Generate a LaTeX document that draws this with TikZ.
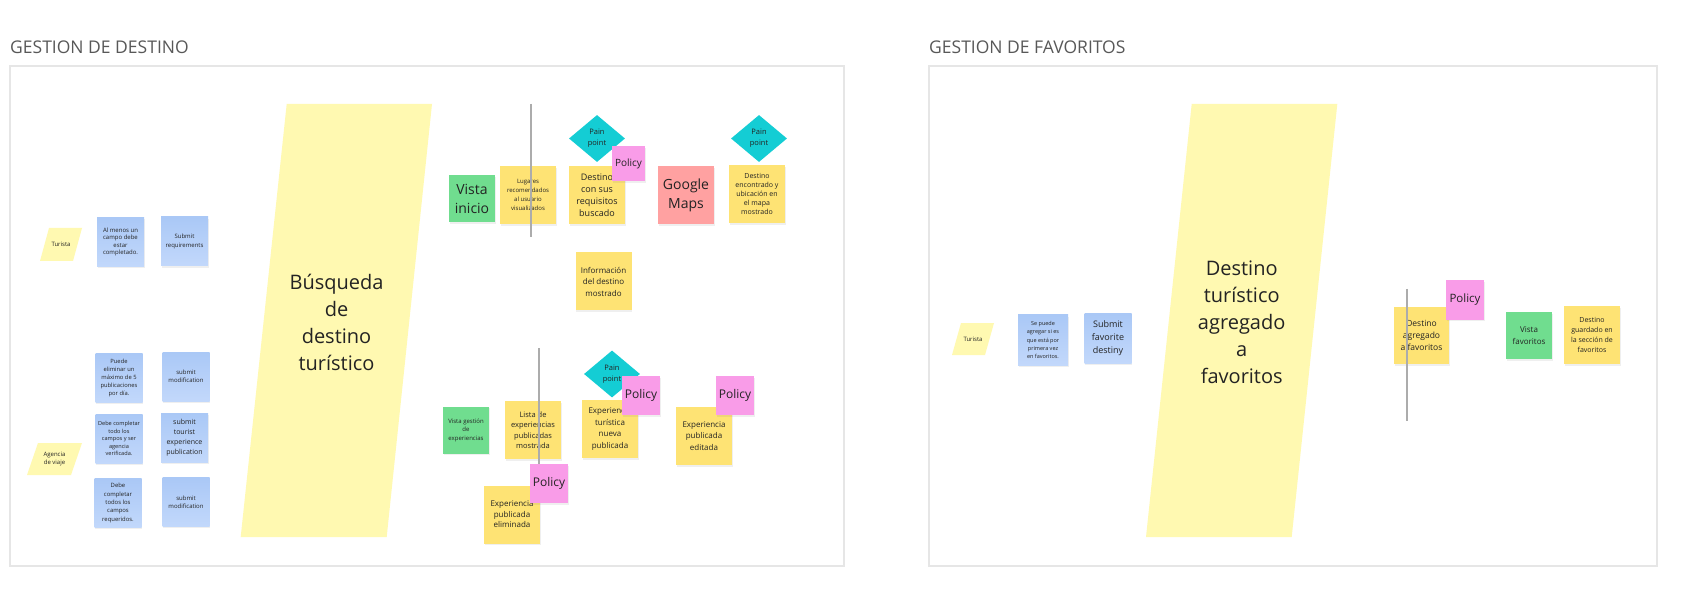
\documentclass[tikz,border=0pt]{standalone}
\usepackage{fontspec}
\setmainfont{Open Sans}
\usepackage{tikz}
\usetikzlibrary{shapes.geometric}
\usetikzlibrary{shadows}
\definecolor{FrameGray}{RGB}{230,230,230}
\definecolor{TitleGray}{RGB}{88,88,88}
\definecolor{PaleYellow}{RGB}{255,249,177}
\definecolor{NoteYellow}{RGB}{254,227,116}
\definecolor{NoteBlueTop}{RGB}{170,200,246}
\definecolor{NoteBlueBot}{RGB}{194,216,251}
\definecolor{NoteGreen}{RGB}{112,221,143}
\definecolor{NoteRed}{RGB}{255,161,161}
\definecolor{NotePink}{RGB}{249,156,232}
\definecolor{PainCyan}{RGB}{20,205,212}
\definecolor{LineGray}{RGB}{172,172,172}
\definecolor{InkGray}{RGB}{35,35,35}

\begin{document}
\begin{tikzpicture}[x=1pt, y=-1pt,
		note/.style={inner sep=1pt, align=center, text=InkGray, drop shadow={shadow xshift=0.5pt, shadow yshift=-1.6pt, opacity=0.12}},
		bluenote/.style={note, minimum width=47pt, minimum height=49pt, top color=NoteBlueTop, bottom color=NoteBlueBot},
		yellownote/.style={note, fill=NoteYellow, minimum width=56pt, minimum height=58pt},
		greennote/.style={note, fill=NoteGreen, minimum width=46pt, minimum height=47pt},
		rednote/.style={note, fill=NoteRed, minimum width=56pt, minimum height=58pt},
		policy/.style={note, fill=NotePink, minimum width=38pt, minimum height=39pt, font=\fontsize{12}{14}\selectfont},
		painpoint/.style={diamond, fill=PainCyan, minimum width=56pt, minimum height=47pt, inner sep=0pt, align=center, text=InkGray, font=\fontsize{7.5}{11}\selectfont},
		lane/.style={fill=PaleYellow},
		lanetext/.style={align=center, text=InkGray, font=\fontsize{20}{27}\selectfont},
		actortext/.style={align=center, text=InkGray, font=\fontsize{6}{8.3}\selectfont},
		divider/.style={draw=LineGray, line width=1.4pt},
		frame/.style={draw=FrameGray, line width=1.3pt, fill=white},
		heading/.style={anchor=base west, inner sep=0pt, text=TitleGray, font=\fontsize{17.5}{20}\selectfont}]
		\useasboundingbox[fill=white] (0,0) rectangle (1685,601);
		
		\draw[frame] (10,66) rectangle (844,566);
		\draw[frame] (929,66) rectangle (1657,566);
		\node[heading] (ttlDestino) at (10,54) {GESTION DE DESTINO};
		\node[heading] (ttlFavoritos) at (929,54) {GESTION DE FAVORITOS};
		
		\fill[lane] (286.7,104) -- (432,104) -- (386.7,537) -- (240.7,537) -- cycle;
		\node[lanetext] (busqueda) at (336.5,322) {Búsqueda\\de\\destino\\turístico};
		\fill[lane] (1191.7,104) -- (1337.3,104) -- (1291.7,537) -- (1146,537) -- cycle;
		\node[lanetext] (agregado) at (1241.7,322) {Destino\\turístico\\agregado\\a\\favoritos};
		
		\fill[lane] (49,228) -- (82,228) -- (73,261) -- (40,261) -- cycle;
		\node[actortext] (turista) at (61,244.5) {Turista};
		\fill[lane] (38,443) -- (82,443) -- (71,475) -- (27,475) -- cycle;
		\node[actortext] (agencia) at (54.5,459) {Agencia\\de viaje};
		\fill[lane] (961,323) -- (994,323) -- (985,355) -- (952,355) -- cycle;
		\node[actortext] (turistaFav) at (973,339) {Turista};
		
		\node[bluenote, font=\fontsize{6}{7.6}\selectfont] (alMenos) at (120.5,242) {Al menos un\\campo debe\\estar\\completado.};
		\node[bluenote, font=\fontsize{6}{8.3}\selectfont] (submitReq) at (184.5,241.5) {Submit\\requirements};
		\node[bluenote, font=\fontsize{5.8}{7.9}\selectfont] (puedeEliminar) at (119,378) {Puede\\eliminar un\\máximo de 5\\publicaciones\\por día.};
		\node[bluenote, font=\fontsize{6}{8.3}\selectfont] (submitModA) at (186,376.5) {submit\\modification};
		\node[bluenote, font=\fontsize{5.6}{7.5}\selectfont] (debeTodo) at (119,438.5) {Debe completar\\todo los\\campos y ser\\agencia\\verificada.};
		\node[bluenote, font=\fontsize{7}{9.8}\selectfont] (submitTourist) at (184.5,437.5) {submit\\tourist\\experience\\publication};
		\node[bluenote, font=\fontsize{5.9}{8.3}\selectfont] (debeTodos) at (118,503) {Debe\\completar\\todos los\\campos\\requeridos.};
		\node[bluenote, font=\fontsize{6}{8.3}\selectfont] (submitModB) at (186,502) {submit\\modification};
		\node[bluenote, font=\fontsize{5.5}{8.3}\selectfont, minimum width=50pt, minimum height=50pt] (sePuede) at (1043,340) {Se puede\\agregar si es\\que está por\\primera vez\\en favoritos.};
		\node[bluenote, font=\fontsize{9}{13}\selectfont] (submitFav) at (1108,338.5) {Submit\\favorite\\destiny};
		
		\node[greennote, font=\fontsize{14}{19}\selectfont] (vistaInicio) at (472,198.5) {Vista\\inicio};
		\node[yellownote, font=\fontsize{6}{8.8}\selectfont] (lugares) at (528,195) {Lugares\\recomendados\\al usuario\\visualizados};
		\node[yellownote, font=\fontsize{9}{12}\selectfont] (destinoBuscado) at (597,195) {Destino\\con sus\\requisitos\\buscado};
		\node[rednote, font=\fontsize{14}{19}\selectfont] (googleMaps) at (686,195) {Google\\Maps};
		\node[yellownote, font=\fontsize{7}{9}\selectfont] (destinoEncontrado) at (757,194) {Destino\\encontrado y\\ubicación en\\el mapa\\mostrado};
		\node[yellownote, font=\fontsize{8}{11.5}\selectfont] (informacion) at (603.5,281.5) {Información\\del destino\\mostrado};
		
		\node[greennote, font=\fontsize{6}{8.5}\selectfont] (vistaGestion) at (466,430) {Vista gestión\\de\\experiencias};
		\node[yellownote, font=\fontsize{7.5}{10.5}\selectfont] (listaExp) at (533,430) {Lista de\\experiencias\\publicadas\\mostrada};
		\node[yellownote, font=\fontsize{8}{11.5}\selectfont] (expNueva) at (610,429) {Experiencia\\turística\\nueva\\publicada};
		\node[yellownote, font=\fontsize{8}{11.7}\selectfont] (expEditada) at (704,436) {Experiencia\\publicada\\editada};
		\node[yellownote, font=\fontsize{8}{10.5}\selectfont] (expEliminada) at (512,514.5) {Experiencia\\publicada\\eliminada};
		
		\node[yellownote, font=\fontsize{8.5}{12}\selectfont, minimum width=55pt, minimum height=57pt] (destinoAgregado) at (1421.5,335.5) {Destino\\agregado\\a favoritos};
		\node[greennote, font=\fontsize{8}{12.3}\selectfont] (vistaFav) at (1529,335.5) {Vista\\favoritos};
		\node[yellownote, font=\fontsize{7}{10}\selectfont] (destinoGuardado) at (1592,335) {Destino\\guardado en\\la sección de\\favoritos};
		
		\draw[divider] (531,104) -- (531,237);
		\draw[divider] (539,348) -- (539,470);
		\draw[divider] (1407,289) -- (1407,421);
		
		\node[painpoint] (painBuscado) at (597,138.5) {Pain\\point};
		\node[painpoint] (painMapa) at (759,138.5) {Pain\\point};
		\node[painpoint] (painNueva) at (612,374) {Pain\\point};
		
		\node[policy, minimum width=33pt, minimum height=35pt, font=\fontsize{10}{12}\selectfont] (policyBuscado) at (628.5,163.5) {Policy};
		\node[policy] (policyEliminada) at (549,483.5) {Policy};
		\node[policy] (policyNueva) at (641,395.5) {Policy};
		\node[policy] (policyEditada) at (735,395.5) {Policy};
		\node[policy, font=\fontsize{11.5}{14}\selectfont] (policyAgregado) at (1465,300) {Policy};
	\end{tikzpicture}
\end{document}
